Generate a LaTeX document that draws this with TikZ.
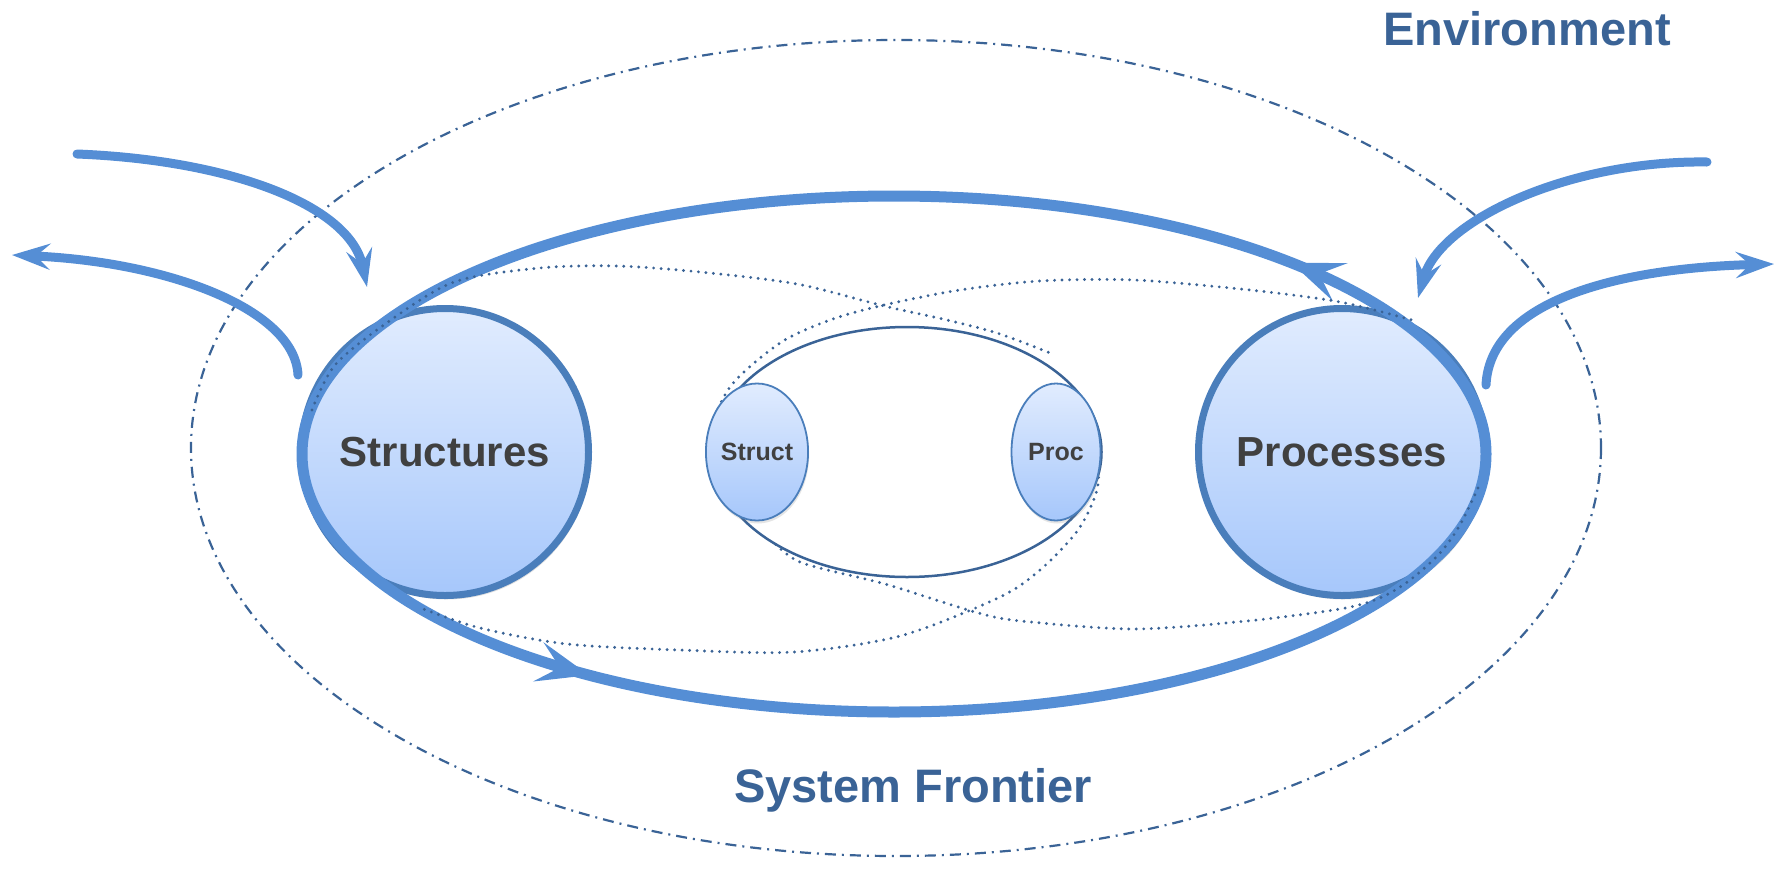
\documentclass[tikz,border=0pt]{standalone}
\usepackage{fontspec}
\setmainfont{Liberation Sans}
\usetikzlibrary{positioning,shapes.geometric,arrows.meta,decorations.markings,shadows}

\definecolor{flowblue}{HTML}{558ED5}
\definecolor{rimblue}{HTML}{4A7EBB}
\definecolor{deepblue}{HTML}{3A6396}
\definecolor{ink}{HTML}{404040}
\definecolor{celltop}{HTML}{E1ECFE}
\definecolor{cellbot}{HTML}{A6C7FB}

\begin{document}
\begin{tikzpicture}[
		x=1pt, y=-1pt
		,every node/.append style={text=ink, inner sep=0pt}
		,cell/.style={circle, draw=rimblue, line width=7pt, minimum size=287pt, top color=celltop, bottom color=cellbot, drop shadow={shadow xshift=2pt, shadow yshift=-4pt, opacity=.25}, font=\fontsize{42}{50}\selectfont\bfseries}
		,part/.style={ellipse, draw=rimblue, line width=1.8pt, minimum width=89pt, minimum height=137pt, top color=celltop, bottom color=cellbot, drop shadow={shadow xshift=1pt, shadow yshift=-3pt, opacity=.2}, font=\fontsize{25}{30}\selectfont\bfseries}
		,core/.style={ellipse, draw=deepblue, line width=2.5pt, fill=white, minimum width=389pt, minimum height=250pt}
		,trace/.style={draw=deepblue, line width=3.2pt, dash pattern=on 0pt off 7.5pt, line cap=round}
		,bound/.style={draw=deepblue, line width=2.2pt, dash pattern=on 11pt off 6pt on 2pt off 6pt}
		,cycleflow/.style={draw=flowblue, line width=11pt, postaction={decorate}, decoration={markings
			,mark=at position 0.361 with {\arrowreversed{Stealth[length=52pt, width=40pt, inset=22pt]}}
			,mark=at position 0.896 with {\arrowreversed{Stealth[length=52pt, width=40pt, inset=22pt]}}}}
		,exchange/.style={draw=flowblue, line width=9pt, line cap=round, -{Stealth[length=38pt, width=26pt, inset=14pt]}}
		,tagtext/.style={text=deepblue, font=\fontsize{47}{56}\selectfont\bfseries, anchor=base}
	]
		\useasboundingbox (0,0) rectangle (1778,871);

		% system frontier
		\draw[bound] (896,448) ellipse [x radius=705, y radius=408];

		\node[cell] (structures) at (445,452) {Structures};
		\node[cell] (processes) at (1342,452) {Processes};

		\draw[cycleflow] (894,454) ellipse [x radius=592, y radius=258];

		% the two crossing couplings
		\draw[trace] plot[smooth] coordinates {(312,410) (335,365) (388,322) (454,282) (540,268) (617,266) (700,272) (797,284) (884,306) (947,320) (1000,334) (1055,355)}
			plot[smooth] coordinates {(1098,455) (1097,490) (1078,530) (1040,570) (998,598) (900,636) (794,652) (680,650) (567,644) (480,628) (418,607)};
		\draw[trace] plot[smooth] coordinates {(716,480) (707,442) (730,387) (780,343) (830,320) (884,305) (960,290) (1040,281) (1134,280) (1250,290) (1340,302) (1412,320)}
			plot[smooth] coordinates {(1478,488) (1460,525) (1440,553) (1410,580) (1380,598) (1340,609) (1247,621) (1134,629) (1021,621) (975,612) (885,584) (800,562) (768,536)};

		\node[core] (system) at (907,452) {};
		\node[part] (struct) at (757,452) {Struct};
		\node[part] (proc) at (1056,452) {Proc};

		% exchanges with the environment
		\coordinate (inwest) at (77,154);
		\coordinate (inwesttip) at (367,287);
		\coordinate (outwest) at (298,375);
		\coordinate (outwesttip) at (12,255);
		\coordinate (ineast) at (1707,162);
		\coordinate (ineasttip) at (1418,298);
		\coordinate (outeast) at (1486,385);
		\coordinate (outeasttip) at (1774,264);
		\draw[exchange] (inwest) .. controls (230,160) and (350,205) .. (inwesttip);
		\draw[exchange] (outwest) .. controls (295,310) and (170,262) .. (outwesttip);
		\draw[exchange] (ineast) .. controls (1570,160) and (1440,220) .. (ineasttip);
		\draw[exchange] (outeast) .. controls (1490,300) and (1620,268) .. (outeasttip);

		\node[tagtext] (environment) at (1527,45) {Environment};
		\node[tagtext] (frontier) at (913,802) {System Frontier};
	\end{tikzpicture}
\end{document}
